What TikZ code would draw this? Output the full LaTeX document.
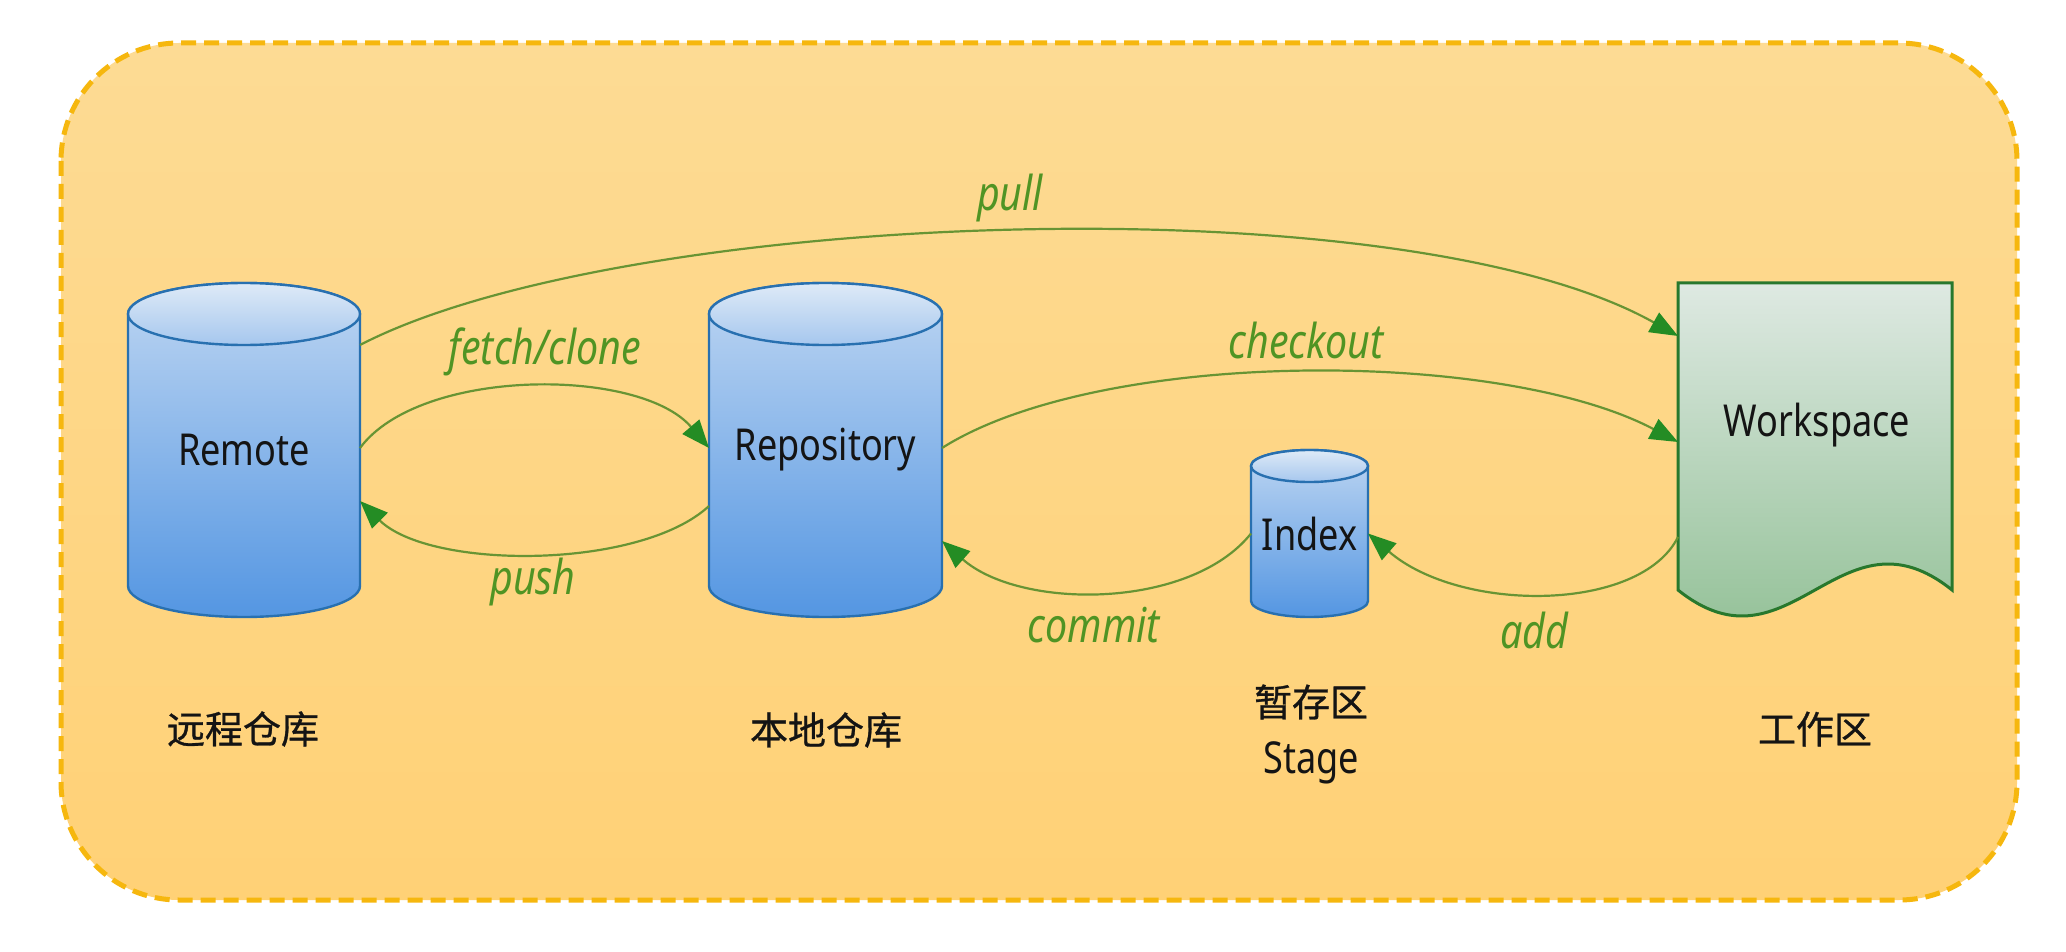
\documentclass[tikz,border=0pt]{standalone}
\usepackage{fontspec}
\usepackage{graphicx}
\setmainfont{Noto Sans}
\newfontfamily\cjk[FakeBold=0.8]{Noto Sans CJK SC}
\usetikzlibrary{arrows.meta,calc}
\definecolor{framefillA}{RGB}{253,219,148}
\definecolor{framefillB}{RGB}{255,209,118}
\definecolor{framedash}{RGB}{246,183,14}
\definecolor{cylborder}{RGB}{40,112,176}
\definecolor{cyltop}{RGB}{190,214,242}
\definecolor{cylbot}{RGB}{84,150,226}
\definecolor{captop}{RGB}{222,234,247}
\definecolor{capbot}{RGB}{166,199,238}
\definecolor{wstop}{RGB}{222,233,226}
\definecolor{wsbot}{RGB}{138,188,142}
\definecolor{wsborder}{RGB}{40,120,45}
\definecolor{linegreen}{RGB}{104,148,52}
\definecolor{tipgreen}{RGB}{36,140,36}
\definecolor{labelgreen}{RGB}{80,148,36}
\definecolor{inkc}{RGB}{20,20,20}
\newcommand{\nx}[1]{\scalebox{0.82}[1]{#1}}
\begin{document}
\begin{tikzpicture}[x=0.5pt,y=-0.5pt,
  flow/.style={draw=linegreen, line width=1.1pt, -{Triangle[length=14pt,width=11pt,color=tipgreen]}},
  glabel/.style={text=labelgreen, font=\fontsize{24pt}{28pt}\selectfont\itshape, inner sep=0pt},
  mainlabel/.style={text=inkc, font=\fontsize{22pt}{26pt}\selectfont, inner sep=0pt},
  cnlabel/.style={text=inkc, font=\cjk\fontsize{19pt}{23pt}\selectfont, inner sep=0pt},
  holder/.style={draw=none, inner sep=0pt, outer sep=0pt, rectangle},
  cylbody/.style={draw=cylborder, line width=1.2pt, top color=cyltop, bottom color=cylbot},
  cylcap/.style={draw=cylborder, line width=1.2pt, top color=captop, bottom color=capbot},
]
\fill[white] (0,0) rectangle (2066,952);
\useasboundingbox (0,0) rectangle (2066,952);

% frame
\draw[draw=framedash, line width=2.5pt, dash pattern=on 7.5pt off 4pt,
      top color=framefillA, bottom color=framefillB, rounded corners=59pt]
  (61,43) rectangle (2017,900);

% Remote cylinder
\path[cylbody] (128,314) -- (128,586) arc[start angle=180,end angle=360,x radius=58pt,y radius=15.5pt]
  -- (360,314) arc[start angle=0,end angle=180,x radius=58pt,y radius=15.5pt] -- cycle;
\path[cylcap] (244,314) ellipse [x radius=58pt, y radius=15.5pt];

% Repository cylinder
\path[cylbody] (709,314) -- (709,586) arc[start angle=180,end angle=360,x radius=58.25pt,y radius=15.5pt]
  -- (942,314) arc[start angle=0,end angle=180,x radius=58.25pt,y radius=15.5pt] -- cycle;
\path[cylcap] (825.5,314) ellipse [x radius=58.25pt, y radius=15.5pt];

% Index cylinder
\path[cylbody] (1251,466) -- (1251,601) arc[start angle=180,end angle=360,x radius=29.25pt,y radius=8pt]
  -- (1368,466) arc[start angle=0,end angle=180,x radius=29.25pt,y radius=8pt] -- cycle;
\path[cylcap] (1309.5,466) ellipse [x radius=29.25pt, y radius=8pt];

% Workspace document
\path[draw=wsborder, line width=1.5pt, top color=wstop, bottom color=wsbot]
  (1678,283) -- (1952,283) -- (1952,590)
  .. controls (1840,500) and (1790,680) .. (1678,590) -- cycle;

% nodes
\node[holder, mainlabel, minimum width=116pt, minimum height=167pt] (remote) at (244,450) {\nx{Remote}};
\node[holder, mainlabel, minimum width=116.5pt, minimum height=167pt] (repo) at (825.5,450) {\nx{Repository}};
\node[holder, mainlabel, minimum width=58.5pt, minimum height=83.5pt] (index) at (1309.5,533.5) {\nx{Index}};
\node[holder, minimum width=137pt, minimum height=166pt] (ws) at (1815,449) {};
\node[mainlabel] (wslabel) at (1817,425) {\nx{Workspace}};

% connectors
\draw[flow] ($(remote.east)+(0,-105)$) .. controls (620,210) and (1400,180) .. ($(ws.west)+(0,-113)$);
\draw[flow] ($(remote.east)+(0,-2)$) .. controls (420,367) and (640,367) .. ($(repo.west)+(0,-2)$);
\draw[flow] ($(repo.west)+(0,56)$) .. controls (640,570) and (430,570) .. ($(remote.east)+(0,51)$);
\draw[flow] ($(repo.east)+(0,-2)$) .. controls (1100,348) and (1500,348) .. ($(ws.west)+(0,-7)$);
\draw[flow] (index.west) .. controls (1190,610) and (1020,610) .. ($(repo.east)+(0,91)$);
\draw[flow] ($(ws.west)+(0,88)$) .. controls (1640,613) and (1460,613) .. (index.east);

% connector labels
\node[glabel] (lpull) at (1010,198) {\nx{pull}};
\node[glabel] (lfetch) at (545,352) {\nx{fetch/clone}};
\node[glabel] (lcheckout) at (1306,340) {\nx{checkout}};
\node[glabel] (lpush) at (533,582) {\nx{push}};
\node[glabel] (lcommit) at (1094,625) {\nx{commit}};
\node[glabel] (ladd) at (1534,630) {\nx{add}};

% captions
\node[cnlabel] (cremote) at (243,729) {远程仓库};
\node[cnlabel] (clocal) at (826,730) {本地仓库};
\node[cnlabel] (cstage) at (1311,702) {暂存区};
\node[mainlabel] (estage) at (1311,763) {\nx{Stage}};
\node[cnlabel] (cws) at (1815,729) {工作区};
\end{tikzpicture}
\end{document}
